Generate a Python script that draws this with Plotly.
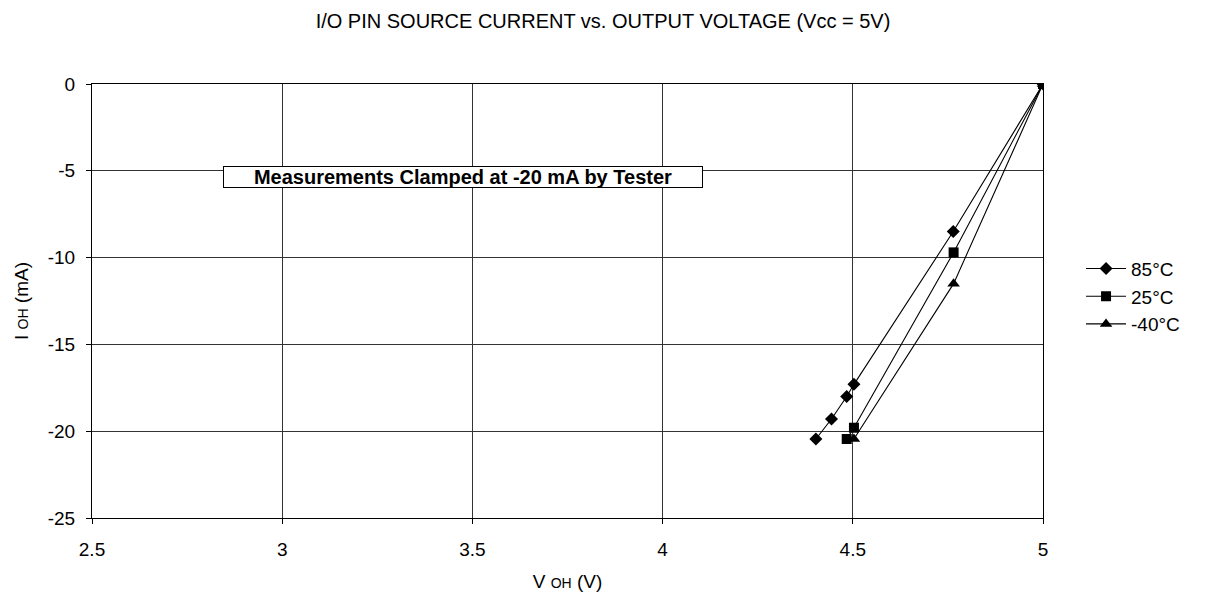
import plotly.graph_objects as go

v_85 = [5.0, 4.764, 4.503, 4.484, 4.444, 4.403]
i_85 = [0.0, -8.5, -17.3, -18.0, -19.3, -20.45]
v_25 = [5.0, 4.765, 4.503, 4.484]
i_25 = [0.0, -9.7, -19.8, -20.45]
v_m40 = [5.0, 4.765, 4.503]
i_m40 = [0.0, -11.5, -20.45]

series = [
    ("85°C", v_85, i_85, "diamond", 10),
    ("25°C", v_25, i_25, "square", 10),
    ("-40°C", v_m40, i_m40, "triangle-up", 11),
]

x_ticks = [2.5, 3, 3.5, 4, 4.5, 5]
y_ticks = [0, -5, -10, -15, -20, -25]

fig = go.Figure()
for name, xs, ys, sym, sz in series:
    fig.add_trace(go.Scatter(
        x=xs, y=ys, name=name, mode="lines+markers",
        line=dict(color="black", width=1.1),
        marker=dict(symbol=sym, size=sz, color="black"),
    ))

font = "Liberation Sans, Arial, sans-serif"
fig.update_layout(
    width=1190, height=584,
    margin=dict(l=84, r=155, t=76, b=74, autoexpand=False),
    paper_bgcolor="white", plot_bgcolor="white",
    font=dict(family=font, size=19, color="black"),
    title=dict(text="I/O PIN SOURCE CURRENT vs. OUTPUT VOLTAGE (Vcc = 5V)",
               x=0.5, xanchor="center", y=0.978, yanchor="middle",
               font=dict(size=20, family=font)),
    showlegend=True,
    legend=dict(x=1.04, y=0.51, xanchor="left", yanchor="middle",
                font=dict(size=19), bgcolor="rgba(0,0,0,0)", tracegroupgap=0,
                itemwidth=40),
    xaxis=dict(range=[2.5, 5], tickvals=x_ticks, ticktext=[str(t) for t in x_ticks],
               showgrid=True, gridcolor="#333", gridwidth=1,
               showline=True, linecolor="black", linewidth=1, mirror=True,
               ticks="outside", ticklen=5, tickcolor="black", zeroline=False,
               ticklabelstandoff=9,
               title=dict(text="V <span style='font-size:14px'>OH</span> (V)", standoff=16,
                          font=dict(size=19))),
    yaxis=dict(range=[-25, 0], tickvals=y_ticks, ticktext=[str(t) for t in y_ticks],
               showgrid=True, gridcolor="#333", gridwidth=1,
               showline=True, linecolor="black", linewidth=1, mirror=True,
               ticks="outside", ticklen=5, tickcolor="black", zeroline=False,
               ticklabelstandoff=7,
               title=dict(text="I <span style='font-size:14px'>OH</span> (mA)", standoff=14,
                          font=dict(size=19))),
    annotations=[dict(
        x=3.474, y=-5.36, xref="x", yref="y",
        text="<b>Measurements Clamped at -20 mA by Tester</b>",
        showarrow=False, font=dict(size=20, family=font),
        bgcolor="white", bordercolor="black", borderwidth=1, borderpad=0,
        width=478, height=20,
    )],
)

fig.write_html("out.html")
